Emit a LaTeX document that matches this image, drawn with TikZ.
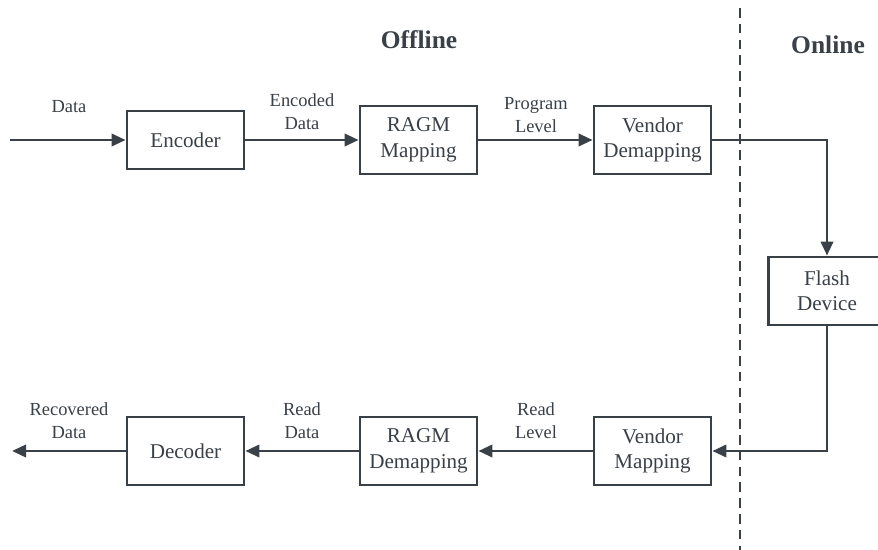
\documentclass[tikz,border=0pt]{standalone}
\usepackage{fontspec}
\setmainfont{Liberation Serif}
\definecolor{linegray}{RGB}{58,64,72}
\usetikzlibrary{arrows.meta}

\begin{document}
\begin{tikzpicture}[x=0.02cm, y=-0.02cm, >={Triangle[length=8pt,width=7pt]},
    every node/.style={text=linegray},
    block/.style={draw=linegray, line width=1.6pt, fill=white, align=center, minimum width=2.34cm, minimum height=1.36cm, font=\fontsize{12}{14.5}\selectfont},
    lbl/.style={align=center, font=\fontsize{10.5}{13}\selectfont},
    wire/.style={draw=linegray, line width=1.6pt}]
    \useasboundingbox (0,0) rectangle (878,550);

    % Separacion offline / online
    \draw[linegray, line width=1.6pt, dash pattern=on 5.5pt off 3.5pt] (740,8) -- (740,550);
    \node[font=\bfseries\fontsize{14.5}{17}\selectfont] (offline) at (419,40) {Offline};
    \node[font=\bfseries\fontsize{14.5}{17}\selectfont] (online) at (828,45) {Online};

    % Fila superior
    \coordinate (din) at (10,140);
    \node[block, minimum height=1.16cm] (enc) at (185.5,140) {Encoder};
    \node[block] (ragm) at (418.5,140) {RAGM\\Mapping};
    \node[block] (vdemap) at (652.5,140) {Vendor\\Demapping};

    % Dispositivo
    \node[block, minimum width=2.5cm] (flash) at (831,291) {};
    \node[font=\fontsize{12}{14.5}\selectfont, align=center] (flashtxt) at (827,291) {Flash\\Device};

    % Fila inferior
    \node[block] (vmap) at (652.5,451) {Vendor\\Mapping};
    \node[block] (ragmd) at (418.5,451) {RAGM\\Demapping};
    \node[block] (dec) at (185.5,451) {Decoder};
    \coordinate (dout) at (12,451);

    % Etiquetas
    \node[lbl] (ldata) at (69,107) {Data};
    \node[lbl] (lenc) at (302,112) {Encoded\\Data};
    \node[lbl] (lprog) at (536,115) {Program\\Level};
    \node[lbl] (lrec) at (69,421) {Recovered\\Data};
    \node[lbl] (lrdata) at (302,421) {Read\\Data};
    \node[lbl] (lrlevel) at (536,421) {Read\\Level};

    % Conexiones
    \draw[wire, ->] (din) -- (enc);
    \draw[wire, ->] (enc) -- (ragm);
    \draw[wire, ->] (ragm) -- (vdemap);
    \draw[wire, ->] (vdemap.east) -| (flashtxt |- flash.north);
    \draw[wire, ->] (flashtxt |- flash.south) |- (vmap.east);
    \draw[wire, ->] (vmap) -- (ragmd);
    \draw[wire, ->] (ragmd) -- (dec);
    \draw[wire, ->] (dec) -- (dout);
\end{tikzpicture}
\end{document}
